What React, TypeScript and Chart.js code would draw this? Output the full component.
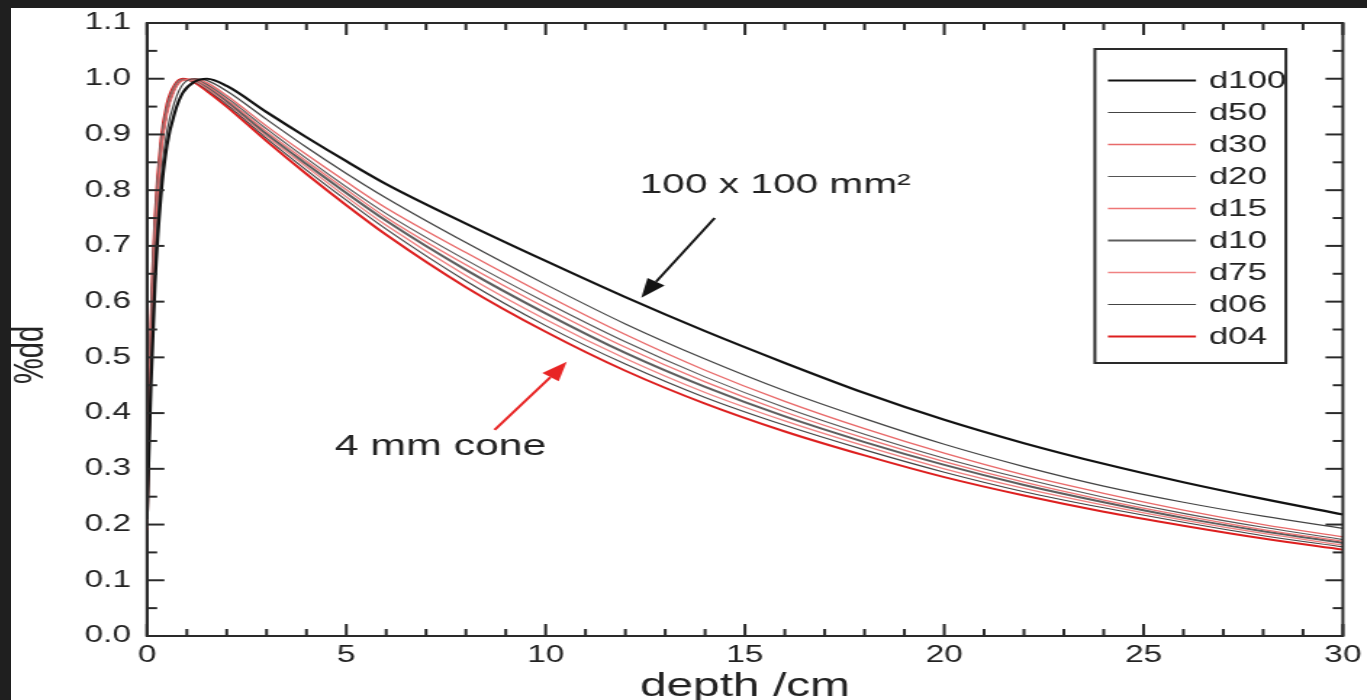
import React, { useEffect, useRef } from 'react';
import { Chart, registerables } from 'chart.js';

Chart.register(...registerables);

// ---------- data ----------
const DEPTH = [0, 0.1, 0.2, 0.35, 0.5, 0.7, 0.9, 1.2, 1.5, 2, 3, 4, 5, 6, 8, 10, 12, 14, 16, 18, 20, 22, 24, 26, 28, 30];

const D100 = [0.21, 0.45, 0.63, 0.79, 0.88, 0.94, 0.975, 0.995, 1.0, 0.987, 0.94, 0.895, 0.852, 0.811, 0.74, 0.673, 0.608, 0.547, 0.49, 0.436, 0.388, 0.346, 0.309, 0.276, 0.246, 0.218];
const D50 = [0.2, 0.48, 0.67, 0.82, 0.905, 0.96, 0.99, 1.0, 0.997, 0.978, 0.927, 0.877, 0.83, 0.786, 0.706, 0.631, 0.56, 0.497, 0.44, 0.39, 0.344, 0.304, 0.269, 0.24, 0.215, 0.193];
const D30 = [0.2, 0.52, 0.71, 0.86, 0.935, 0.98, 0.997, 1.0, 0.993, 0.97, 0.915, 0.864, 0.815, 0.768, 0.688, 0.612, 0.541, 0.477, 0.421, 0.372, 0.328, 0.289, 0.256, 0.226, 0.2, 0.178];
const D20 = [0.198, 0.528, 0.718, 0.866, 0.939, 0.982, 0.998, 0.999, 0.99, 0.966, 0.91, 0.857, 0.806, 0.758, 0.675, 0.599, 0.528, 0.465, 0.41, 0.362, 0.319, 0.282, 0.249, 0.22, 0.195, 0.173];
const D15 = [0.196, 0.534, 0.724, 0.87, 0.942, 0.984, 0.998, 0.997, 0.988, 0.963, 0.905, 0.852, 0.801, 0.751, 0.666, 0.589, 0.518, 0.456, 0.402, 0.355, 0.313, 0.276, 0.244, 0.216, 0.191, 0.17];
const D10 = [0.195, 0.54, 0.73, 0.875, 0.945, 0.985, 0.998, 0.997, 0.986, 0.96, 0.901, 0.847, 0.795, 0.745, 0.657, 0.579, 0.508, 0.447, 0.394, 0.348, 0.307, 0.271, 0.24, 0.212, 0.188, 0.167];
const D75 = [0.194, 0.546, 0.736, 0.88, 0.948, 0.987, 0.999, 0.995, 0.983, 0.957, 0.897, 0.842, 0.788, 0.737, 0.647, 0.568, 0.498, 0.437, 0.386, 0.341, 0.3, 0.265, 0.235, 0.208, 0.184, 0.163];
const D06 = [0.192, 0.552, 0.742, 0.884, 0.951, 0.988, 0.999, 0.994, 0.981, 0.954, 0.893, 0.836, 0.782, 0.73, 0.637, 0.557, 0.488, 0.428, 0.378, 0.334, 0.294, 0.259, 0.23, 0.204, 0.18, 0.16];
const D04 = [0.19, 0.56, 0.75, 0.89, 0.955, 0.99, 1.0, 0.993, 0.978, 0.95, 0.888, 0.829, 0.773, 0.72, 0.626, 0.546, 0.476, 0.417, 0.367, 0.324, 0.285, 0.252, 0.223, 0.198, 0.175, 0.155];

const SERIES_NAMES = ['d100', 'd50', 'd30', 'd20', 'd15', 'd10', 'd75', 'd06', 'd04'];
const SERIES_VALUES = [D100, D50, D30, D20, D15, D10, D75, D06, D04];

const X_TICKS = [0, 5, 10, 15, 20, 25, 30];
const Y_TICKS = [0, 0.1, 0.2, 0.3, 0.4, 0.5, 0.6, 0.7, 0.8, 0.9, 1.0, 1.1];

const X_TITLE = 'depth /cm';
const Y_TITLE = '%dd';
const NOTE_BIG = '100 x 100 mm²';
const NOTE_SMALL = '4 mm cone';

// ---------- styles ----------
const COLORS = ['#121212', '#444444', '#e86a6a', '#555555', '#ee7676', '#5e5e5e', '#f08282', '#444444', '#dd1f1f'];
const WIDTHS = [2.2, 1.2, 1.3, 1.1, 1.3, 2, 1.3, 1.1, 2];

const FONT = '"Liberation Sans", Arial, Helvetica, sans-serif';
const TEXT = '#222222';

// canvas is drawn narrow and stretched horizontally, like the source image
const BASE_W = 935;
const BASE_H = 692;
const SHOW_W = 1356;
const SHOW_H = 692;

const overlay = {
  id: 'overlay',
  beforeDraw(chart: any) {
    const ctx = chart.ctx;
    ctx.save();
    ctx.fillStyle = '#ffffff';
    ctx.fillRect(0, 0, chart.width, chart.height);
    ctx.restore();
  },
  afterDatasetsDraw(chart: any) {
    const ctx = chart.ctx;
    const a = chart.chartArea;
    const xs = chart.scales.x;
    const ys = chart.scales.y;
    ctx.save();
    ctx.strokeStyle = '#2a2a2a';
    ctx.lineWidth = 2;
    ctx.strokeRect(a.left, a.top, a.right - a.left, a.bottom - a.top);

    const seg = (x1: number, y1: number, x2: number, y2: number) => {
      ctx.beginPath();
      ctx.moveTo(x1, y1);
      ctx.lineTo(x2, y2);
      ctx.stroke();
    };
    // inward ticks, x
    for (let v = xs.min; v <= xs.max; v += 1) {
      const px = xs.getPixelForValue(v);
      const len = v % 5 === 0 ? 12 : 7;
      seg(px, a.bottom, px, a.bottom - len);
      seg(px, a.top, px, a.top + len);
    }
    // inward ticks, y
    for (let i = 0; i <= 22; i++) {
      const py = ys.getPixelForValue(i * 0.05);
      const len = i % 2 === 0 ? 12 : 7;
      seg(a.left, py, a.left + len, py);
      seg(a.right, py, a.right - len, py);
    }

    // annotations
    const arrow = (fx: number, fy: number, tx: number, ty: number, color: string) => {
      const x1 = xs.getPixelForValue(fx), y1 = ys.getPixelForValue(fy);
      const x2 = xs.getPixelForValue(tx), y2 = ys.getPixelForValue(ty);
      const ang = Math.atan2(y2 - y1, x2 - x1);
      const hl = 19, hw = 7;
      ctx.strokeStyle = color;
      ctx.fillStyle = color;
      ctx.lineWidth = 2;
      const bx = x2 - Math.cos(ang) * hl, by = y2 - Math.sin(ang) * hl;
      seg(x1, y1, bx, by);
      ctx.beginPath();
      ctx.moveTo(x2, y2);
      ctx.lineTo(bx + Math.sin(ang) * hw, by - Math.cos(ang) * hw);
      ctx.lineTo(bx - Math.sin(ang) * hw, by + Math.cos(ang) * hw);
      ctx.closePath();
      ctx.fill();
    };
    arrow(14.24, 0.75, 12.4, 0.607, '#141414');
    arrow(8.72, 0.37, 10.53, 0.492, '#e82424');

    ctx.fillStyle = TEXT;
    ctx.textAlign = 'left';
    ctx.textBaseline = 'middle';
    ctx.font = `28px ${FONT}`;
    ctx.fillText(NOTE_BIG, xs.getPixelForValue(12.36), ys.getPixelForValue(0.808));
    ctx.font = `29.5px ${FONT}`;
    ctx.fillText(NOTE_SMALL, xs.getPixelForValue(4.71), ys.getPixelForValue(0.339));

    // y title (rotated)
    ctx.save();
    ctx.font = `29px ${FONT}`;
    ctx.textAlign = 'center';
    ctx.translate(14, 347);
    ctx.rotate(-Math.PI / 2);
    ctx.fillText(Y_TITLE, 0, 0);
    ctx.restore();

    // legend box
    const lx0 = 747.4, lx1 = 879.1, ly0 = 41, ly1 = 355;
    ctx.strokeStyle = '#2a2a2a';
    ctx.lineWidth = 2;
    ctx.strokeRect(lx0, ly0, lx1 - lx0, ly1 - ly0);
    const rows = chart.data.datasets;
    ctx.font = `24px ${FONT}`;
    rows.forEach((ds: any, i: number) => {
      const yy = 72.5 + i * 32;
      ctx.strokeStyle = ds.borderColor;
      ctx.lineWidth = ds.borderWidth;
      seg(756.4, yy, 817.1, yy);
      ctx.fillStyle = TEXT;
      ctx.fillText(ds.label, 826, yy + 1);
    });
    ctx.restore();
  },
};

export default function App() {
  const ref = useRef<HTMLCanvasElement | null>(null);

  useEffect(() => {
    if (!ref.current) return;
    const datasets = SERIES_NAMES.map((name, i) => ({
      label: name,
      data: DEPTH.map((d, j) => ({ x: d, y: SERIES_VALUES[i][j] })),
      borderColor: COLORS[i],
      backgroundColor: COLORS[i],
      borderWidth: WIDTHS[i],
      pointRadius: 0,
      fill: false,
      cubicInterpolationMode: 'monotone' as const,
    }));
    const zeroPad = (s: any) => {
      s.paddingTop = 0;
      s.paddingBottom = 0;
      s.paddingLeft = 0;
      s.paddingRight = 0;
    };
    const chart = new Chart(ref.current, {
      type: 'line',
      data: { datasets },
      plugins: [overlay],
      options: {
        responsive: false,
        maintainAspectRatio: false,
        animation: false,
        devicePixelRatio: 1,
        events: [],
        layout: { padding: { left: 0, right: 16.6, top: 15, bottom: 0 } },
        plugins: { legend: { display: false }, tooltip: { enabled: false } },
        scales: {
          x: {
            type: 'linear',
            min: 0,
            max: 30,
            afterBuildTicks: (s: any) => {
              s.ticks = X_TICKS.map((v) => ({ value: v }));
            },
            afterFit: (s: any) => {
              s.height = 64;
              zeroPad(s);
            },
            grid: { display: false, drawTicks: false },
            border: { display: true, color: '#2a2a2a', width: 2 },
            ticks: {
              color: TEXT,
              font: { family: FONT, size: 23 },
              padding: 6,
              maxRotation: 0,
              autoSkip: false,
              callback: (v: any) => String(v),
            },
            title: {
              display: true,
              text: X_TITLE,
              color: TEXT,
              font: { family: FONT, size: 33, lineHeight: 0.8 },
              padding: 0,
            },
          },
          y: {
            type: 'linear',
            min: 0,
            max: 1.1,
            afterBuildTicks: (s: any) => {
              s.ticks = Y_TICKS.map((v) => ({ value: v }));
            },
            afterFit: (s: any) => {
              s.width = 93.8;
              zeroPad(s);
            },
            grid: { display: false, drawTicks: false },
            border: { display: true, color: '#2a2a2a', width: 2 },
            ticks: {
              color: TEXT,
              font: { family: FONT, size: 23 },
              padding: 11,
              autoSkip: false,
              callback: (v: any) => Number(v).toFixed(1),
            },
            title: { display: false },
          },
        },
      },
    });
    return () => chart.destroy();
  }, []);

  return (
    <div
      style={{
        position: 'absolute',
        left: 0,
        top: 0,
        width: 1367,
        height: 700,
        background: '#1f1f1f',
        overflow: 'hidden',
      }}
    >
      <canvas
        ref={ref}
        width={BASE_W}
        height={BASE_H}
        style={{
          position: 'absolute',
          left: 11,
          top: 8,
          width: `${SHOW_W}px`,
          height: `${SHOW_H}px`,
          display: 'block',
          background: '#ffffff',
        }}
      />
    </div>
  );
}
